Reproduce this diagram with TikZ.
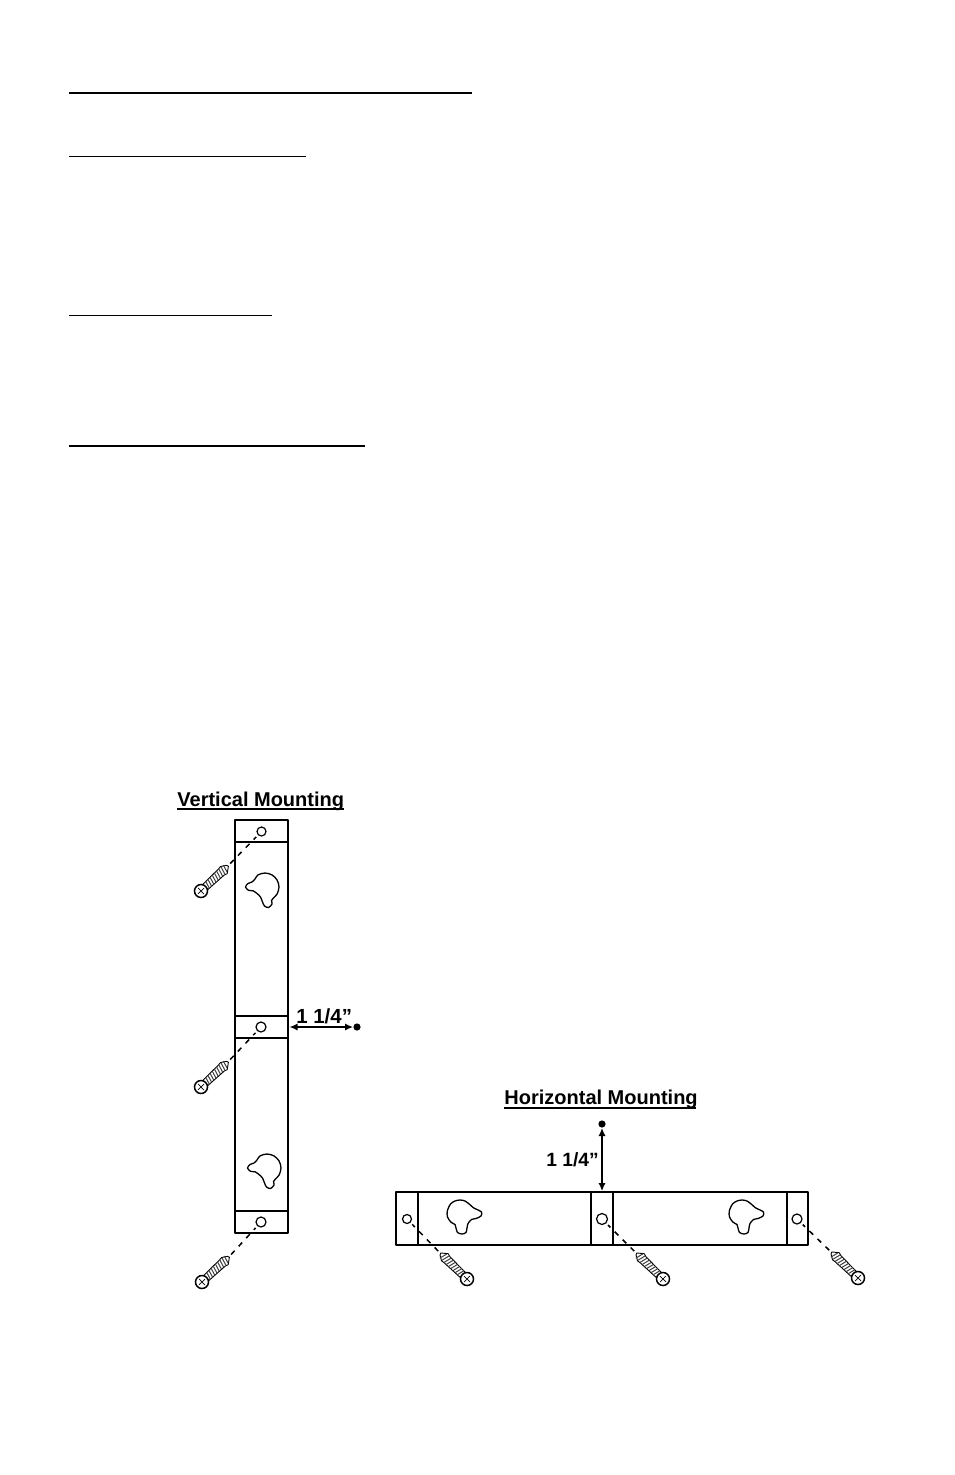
\documentclass[tikz,border=0pt]{standalone}
\usepackage{fontspec}
\setmainfont{Liberation Sans}
\usetikzlibrary{arrows.meta}
\tikzset{
  x=0.5pt,y=-0.5pt,
  rule/.style={line width=0.5pt,line cap=butt},
  thickrule/.style={line width=1pt,line cap=butt},
  outline/.style={line width=0.75pt,line join=round,line cap=round},
  thinline/.style={line width=0.6pt},
  hole/.style={circle,draw,line width=0.6pt,inner sep=0pt,minimum size=#1},
  guide/.style={line width=0.75pt,dash pattern=on 2.6pt off 3pt,shorten >=1.2pt,shorten <=1.5pt},
  dim/.style={line width=0.7pt,{Latex[length=4pt,width=3.6pt]}-{Latex[length=4pt,width=3.6pt]}},
  dimdot/.style={circle,fill=black,inner sep=0pt,minimum size=3.6pt},
  title/.style={inner sep=0pt,anchor=base west,font=\fontsize{10}{12}\selectfont\bfseries},
  dimtext/.style={inner sep=0pt,anchor=base west,font=\fontsize{10.2}{12}\selectfont\bfseries},
  keyline/.style={line width=0.65pt,line join=round},
}
% \screwat{head name}{angle}{tip name}
\newcommand{\screwat}[3]{%
  \begin{scope}[shift={(#1)},rotate=#2,x=0.5pt,y=0.5pt]
    \draw[line width=0.45pt,fill=white,line join=round] (5.5,-3.6) -- (28,-4.2) -- (31,-5.2) -- (37,-0.5) -- (36,1.5) -- (31,4.6) -- (28,4.2) -- (5.5,3.6) -- cycle;
    \foreach \k in {8,11,...,32}{\draw[line width=0.5pt,black!75] (\k,-3.8) -- (\k+2,3.8);}
    \draw[line width=0.75pt,fill=white] (0,0) circle[radius=6.5];
    \draw[line width=0.35pt] (-4.2,0) -- (4.2,0) (0,-4.2) -- (0,4.2);
    \coordinate (#3) at (37,0);
  \end{scope}}
\newcommand{\keyV}[1]{%
  \draw[keyline,shift={(#1)}] plot[smooth cycle,tension=0.5] coordinates {(-5,-12.1)(2,-14)(9,-12.1)(14.1,-7)(16,0)(14.1,7)(10,11.5)(8.5,13.5)(9,17)(5.5,20.5)(1.5,19)(-0.5,15)(-2.5,10)(-6,6.5)(-10,3.8)(-14.5,3.3)(-17.5,0)(-15,-3.5)(-11,-5)(-8,-8)};}
\newcommand{\keyH}[1]{%
  \draw[keyline,shift={(#1)}] plot[smooth cycle,tension=0.5] coordinates {(0,-13)(5,-12)(10,-8.3)(13,-5.5)(17,-3.5)(21.5,-1)(21,3)(16,5.5)(11.5,6.5)(8,10.5)(7,15)(6,19.5)(2,21)(-2.5,19.5)(-4,15)(-5,11.5)(-9,9.2)(-12.5,4)(-12.7,-2)(-9.5,-9)(-5,-12)};}
\begin{document}
\begin{tikzpicture}
\useasboundingbox (0,0) rectangle (954,1475);
\fill[white] (0,0) rectangle (954,1475);
% page rules
\draw[thickrule] (69,93) -- (472,93);
\draw[rule] (69,156.3) -- (306,156.3);
\draw[rule] (69,315.3) -- (272,315.3);
\draw[thickrule] (69,445.7) -- (365,445.7);
% titles
\node[title] (tv) at (177,806) {Vertical Mounting};
\draw[line width=0.75pt] (177,809) -- (344,809);
\node[title] (th) at (504,1104) {Horizontal Mounting};
\draw[line width=0.75pt] (504,1108) -- (696,1108);
% vertical bracket
\draw[outline] (235,820) rectangle (288,1233);
\draw[thinline] (235,842) -- (288,842) (235,1016) -- (288,1016) (235,1038) -- (288,1038) (235,1211) -- (288,1211);
\keyV{263,887}
\keyV{265,1168}
\node[hole=4.5pt] (va) at (261.5,831.5) {};
\node[hole=5pt] (vb) at (261,1027) {};
\node[hole=5pt] (vc) at (261,1222) {};
\coordinate (sva) at (201,891);
\coordinate (svb) at (201,1087);
\coordinate (svc) at (202,1282);
\screwat{sva}{43}{tva}
\screwat{svb}{43}{tvb}
\screwat{svc}{43}{tvc}
\draw[guide] (tva) -- (va);
\draw[guide] (tvb) -- (vb);
\draw[guide] (tvc) -- (vc);
% vertical dimension
\node[dimdot] (dv) at (357,1027) {};
\coordinate (ev) at (289.5,1027);
\draw[dim] (ev) -- (dv);
\node[dimtext] (lv) at (296,1023) {1 1/4”};
% horizontal bracket
\draw[outline] (396,1192) rectangle (808,1245);
\draw[thinline] (418,1192) -- (418,1245) (591,1192) -- (591,1245) (613,1192) -- (613,1245) (787,1192) -- (787,1245);
\keyH{460,1213}
\keyH{742,1213}
\node[hole=4.5pt] (ha) at (407,1219) {};
\node[hole=5.5pt] (hb) at (602,1219) {};
\node[hole=5pt] (hc) at (797,1219) {};
\coordinate (sha) at (467,1279);
\coordinate (shb) at (663,1279);
\coordinate (shc) at (858,1278);
\screwat{sha}{136}{tha}
\screwat{shb}{136}{thb}
\screwat{shc}{136}{thc}
\draw[guide] (tha) -- (ha);
\draw[guide] (thb) -- (hb);
\draw[guide] (thc) -- (hc);
% horizontal dimension
\node[dimdot] (dh) at (602,1124) {};
\coordinate (eh) at (602,1191);
\draw[dim] (dh) -- (eh);
\node[dimtext,font=\fontsize{9.6}{12}\selectfont\bfseries] (lh) at (546,1166) {1 1/4”};
\end{tikzpicture}
\end{document}
